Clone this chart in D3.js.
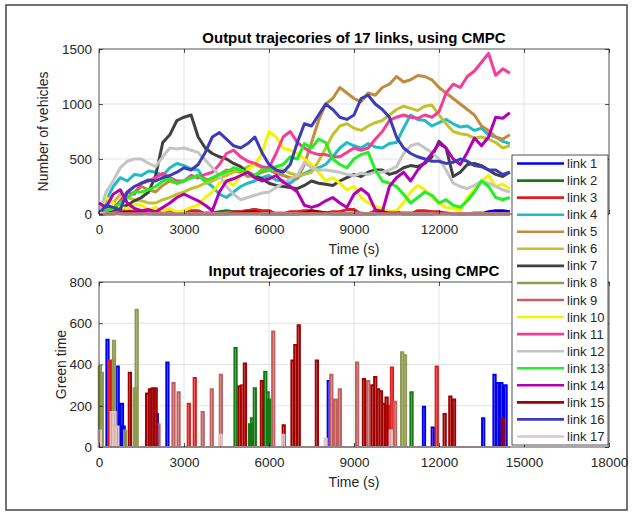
<!DOCTYPE html>
<html>
<head>
<meta charset="utf-8">
<script src="https://cdn.jsdelivr.net/npm/d3@7"></script>
<style>
  body { margin: 0; background: #fff; }
  text { font-family: "Liberation Sans", Arial, sans-serif; }
</style>
</head>
<body>
<svg id="chart" width="632" height="512"></svg>
<script>
// ---- data ----
const linkNames = ["link 1","link 2","link 3","link 4","link 5","link 6","link 7","link 8","link 9",
                   "link 10","link 11","link 12","link 13","link 14","link 15","link 16","link 17"];
const linkColors = ["#0000f0","#157a15","#e01e1e","#1fbcc8","#c08c40","#c3c22e","#404040","#8f9a4e","#c06060",
                    "#f4f400","#f73c96","#c4c4c4","#22f022","#b400b4","#a00000","#3c3cb8","#e2c4c4"];

const sampleTimes = [0,250,500,750,1000,1250,1500,1750,2000,2250,2500,2750,3000,3250,3500,3750,4000,4250,4500,4750,
                     5000,5250,5500,5750,6000,6250,6500,6750,7000,7250,7500,7750,8000,8250,8500,8750,9000,9250,9500,9750,
                     10000,10250,10500,10750,11000,11250,11500,11750,12000,12250,12500,12750,13000,13250,13500,13750,14000,14250,14500];

// number of vehicles per link at sampleTimes
const vehicles1  = [20,10,10,5,0,0,0,10,0,0, 0,0,10,0,0,0,0,0,0,0, 0,0,0,0,0,0,0,0,0,0, 0,0,0,0,0,0,0,0,0,0, 0,0,0,0,0,0,0,0,0,0, 0,0,0,0,0,20,30,30,20];
const vehicles2  = [0,10,10,0,0,20,20,10,10,0, 0,0,0,0,0,10,10,20,30,20, 20,30,40,20,20,0,0,0,0,0, 0,10,10,0,0,0,0,0,0,0, 0,0,0,10,10,0,0,0,0,0, 0,0,0,0,0,0,0,0,0];
const vehicles3  = [0,10,20,30,30,20,10,20,20,0, 0,10,10,30,30,0,0,10,0,20, 20,30,40,30,30,0,0,20,20,30, 30,10,10,20,20,40,40,0,0,30, 30,20,20,0,0,30,30,20,20,0, 0,0,0,10,10,0,0,0,0];
const vehicles4  = [0,120,250,330,300,360,350,390,380,350, 420,460,440,410,400,300,250,180,150,200, 250,280,300,330,350,310,300,280,330,370,
                    400,420,450,520,600,650,620,600,640,610, 600,640,650,780,900,860,850,800,830,860, 820,790,800,760,780,720,700,660,640];
const vehicles5  = [0,20,50,100,150,200,250,220,200,260, 300,280,300,330,350,320,300,360,400,390, 380,340,350,380,400,370,350,330,320,450,
                    650,850,1000,1050,1150,1100,1050,1020,1100,1080, 1150,1180,1250,1200,1220,1260,1250,1220,1150,1100, 1050,1000,950,900,800,760,700,680,720];
const vehicles6  = [0,150,100,180,150,130,120,100,100,130, 150,180,200,230,250,280,300,330,350,380, 400,430,450,420,420,400,400,370,350,360,
                    380,480,600,720,800,820,780,760,800,830, 850,900,950,980,960,940,980,990,900,820, 750,730,720,690,700,680,650,600,620];
const vehicles7  = [0,20,30,60,80,120,150,200,350,650, 720,850,880,900,700,600,550,520,500,460, 430,380,350,320,280,260,250,240,230,260,
                    300,280,270,260,300,330,360,340,380,400, 400,360,380,420,440,430,460,520,660,600, 340,380,450,460,440,400,360,340,380];
const vehicles8  = [0,0,0,10,10,0,0,0,0,0, 0,0,0,0,0,0,0,0,10,10, 0,0,0,0,0,0,0,0,0,0, 0,0,0,0,0,0,0,0,0,0, 0,0,0,0,0,0,0,0,0,0, 0,0,0,0,0,0,0,0,0];
const vehicles9  = [0,0,10,20,20,0,0,10,10,20, 20,0,0,0,0,0,10,0,0,0, 0,0,0,0,0,10,10,0,0,0, 0,0,0,0,0,0,10,10,0,0, 0,0,0,0,0,0,0,0,0,0, 0,0,0,0,0,0,0,0,0];
const vehicles10 = [0,150,100,60,50,90,80,40,60,30, 50,20,30,60,80,150,200,280,300,260, 350,400,450,550,750,700,600,580,550,500,
                    450,380,300,330,280,220,250,150,100,70, 50,20,30,100,200,260,220,150,100,60, 50,30,150,220,300,350,250,270,230];
const vehicles11 = [0,30,50,120,200,180,280,300,330,370, 330,300,300,350,330,360,380,450,550,580, 520,480,460,430,420,550,700,750,650,600,
                    560,540,540,520,520,560,600,580,600,680, 750,850,880,900,880,870,900,880,930,1100, 1180,1150,1250,1300,1380,1460,1260,1320,1280];
const vehicles12 = [0,200,300,420,480,500,500,460,430,520, 600,590,600,580,560,490,420,350,250,180, 130,150,170,190,200,240,280,320,350,470,
                    420,400,400,390,380,360,350,370,360,380, 380,400,430,550,620,640,600,560,500,400, 280,250,230,260,300,280,250,220,200];
const vehicles13 = [0,30,50,100,150,200,200,220,250,300, 320,280,300,330,350,300,330,360,380,420, 400,380,350,400,400,430,450,520,500,640,
                    600,680,650,500,450,420,500,540,560,400, 300,280,250,180,100,150,200,170,100,130, 80,60,120,200,300,250,150,130,150];
const vehicles14 = [100,60,180,220,100,50,30,40,20,60, 100,150,180,150,120,80,30,200,300,320, 350,380,330,300,320,350,290,250,200,80,
                    60,80,120,150,100,60,180,230,180,40, 20,250,330,380,300,400,470,550,640,600, 500,450,560,690,620,700,880,870,920];
const vehicles15 = [0,0,0,10,20,10,10,0,0,0, 0,0,0,0,0,0,0,0,0,10, 10,20,20,0,0,0,0,0,0,10, 30,20,10,0,0,0,0,0,0,0, 20,10,10,0,0,0,0,0,10,10, 0,0,0,0,0,0,0,0,0];
const vehicles16 = [0,80,60,40,200,250,280,310,300,330, 350,380,420,400,450,560,700,740,680,620, 600,640,700,560,450,400,380,450,650,820,
                    800,900,1000,950,880,860,900,1050,1080,1000, 950,880,700,600,550,520,500,480,480,460, 470,500,480,440,430,400,400,360,380];
const vehicles17 = [10,0,0,0,0,0,0,0,0,0, 0,0,0,0,0,0,0,0,0,0, 0,0,0,0,0,0,0,0,0,0, 0,0,0,0,0,0,0,0,0,0, 0,0,0,0,0,0,0,0,0,0, 0,0,0,0,0,0,0,0,0];
const vehicleSeries = [vehicles1,vehicles2,vehicles3,vehicles4,vehicles5,vehicles6,vehicles7,vehicles8,vehicles9,
                       vehicles10,vehicles11,vehicles12,vehicles13,vehicles14,vehicles15,vehicles16,vehicles17];

// green time pulses per link: [time, value]
const green1  = [[300,520],[660,390],[810,210],[870,100],[2040,160],[2415,410],[8110,320],[11470,195],[11780,95],[13560,140],[13960,350],[14070,310],[14200,310],[14350,300]];
const green2  = [[4820,480],[5330,110],[5400,140],[5500,285],[5870,365],[5950,265],[6010,230],[11030,265]];
const green3  = [[380,420],[480,420],[3170,210],[3380,335],[5050,300],[10200,200],[10340,385],[11920,390]];
const green4  = [];
const green5  = [];
const green6  = [];
const green7  = [];
const green8  = [[30,390],[100,360],[530,515],[920,80],[1260,285],[1330,665],[10700,460],[10800,445]];
const green9  = [[1850,280],[1950,280],[2100,110],[2630,310],[2810,265],[3660,170],[3980,280],[4300,350],[6150,560],[8200,350],[8350,230],[8500,280],[9110,410],[9500,320],[10450,220]];
const green10 = [];
const green11 = [];
const green12 = [];
const green13 = [];
const green14 = [];
const green15 = [[1090,360],[1700,260],[1800,280],[1900,285],[2000,285],[4960,295],[5150,405],[5750,320],[6520,105],[6830,420],[6930,495],[7050,590],[7690,420],[9350,330],[9650,300],[9750,340],[9850,280],[9950,270],[10050,210],[10150,240],[12200,160],[12400,245],[12530,230],[14250,140]];
const green16 = [];
const green17 = [[30,80],[450,170],[550,170],[650,100],[4300,60],[6500,60],[8000,40],[10300,80]];
const greenSeries = [green1,green2,green3,green4,green5,green6,green7,green8,green9,
                     green10,green11,green12,green13,green14,green15,green16,green17];

const timeTicks = [0,3000,6000,9000,12000,15000,18000];
const vehicleTicks = [0,500,1000,1500];
const greenTicks = [0,200,400,600,800];
const endTime = 14500;

// ---- drawing ----
const svg = d3.select("#chart");
const axisColor = "#262626";

svg.append("rect").attr("x", 6).attr("y", 5).attr("width", 621).attr("height", 505)
    .attr("fill", "#fff").attr("stroke", "#444").attr("stroke-width", 1.5);

function drawPanel(opt) {
    const x = d3.scaleLinear().domain([0, 18000]).range([99, 609]);
    const y = d3.scaleLinear().domain(opt.yDomain).range([opt.bottom, opt.top]);
    const g = svg.append("g");

    // grid
    g.append("g").selectAll("line").data(timeTicks.slice(1, -1)).enter().append("line")
        .attr("x1", d => x(d)).attr("x2", d => x(d)).attr("y1", opt.top).attr("y2", opt.bottom)
        .attr("stroke", "#e3e3e3").attr("stroke-width", 1);
    g.append("g").selectAll("line").data(opt.yTicks.slice(1, -1)).enter().append("line")
        .attr("x1", 99).attr("x2", 609).attr("y1", d => y(d)).attr("y2", d => y(d))
        .attr("stroke", "#e3e3e3").attr("stroke-width", 1);

    const plot = g.append("g");
    opt.draw(plot, x, y);

    // axes
    const xFmt = d => d <= opt.lastTimeLabel ? String(d) : "";
    const xb = g.append("g").attr("transform", "translate(0," + opt.bottom + ")")
        .call(d3.axisBottom(x).tickValues(timeTicks).tickFormat(xFmt).tickSizeInner(-4).tickSizeOuter(0).tickPadding(10));
    const xt = g.append("g").attr("transform", "translate(0," + opt.top + ")")
        .call(d3.axisTop(x).tickValues(timeTicks).tickFormat("").tickSizeInner(-4).tickSizeOuter(0));
    const yl = g.append("g").attr("transform", "translate(99,0)")
        .call(d3.axisLeft(y).tickValues(opt.yTicks).tickFormat(d3.format("d")).tickSizeInner(-4).tickSizeOuter(0).tickPadding(7));
    const yr = g.append("g").attr("transform", "translate(609,0)")
        .call(d3.axisRight(y).tickValues(opt.yTicks).tickFormat("").tickSizeInner(-4).tickSizeOuter(0));
    [xb, xt, yl, yr].forEach(a => {
        a.select(".domain").remove();
        a.selectAll("line").attr("stroke", axisColor).attr("stroke-width", 0.8);
        a.selectAll("text").attr("fill", "#262626").style("font-size", "13.5px")
            .style("font-family", "'Liberation Sans', Arial, sans-serif");
    });
    g.append("rect").attr("x", 99).attr("y", opt.top).attr("width", 510).attr("height", opt.bottom - opt.top)
        .attr("fill", "none").attr("stroke", axisColor).attr("stroke-width", 0.8);

    g.append("text").attr("x", 354).attr("y", opt.titleY).attr("text-anchor", "middle")
        .attr("font-weight", "bold").attr("font-size", "15px").attr("fill", "#000").text(opt.title);
    g.append("text").attr("x", 354).attr("y", opt.bottom + 40).attr("text-anchor", "middle")
        .attr("font-size", "14px").attr("fill", "#262626").text("Time (s)");
    g.append("text").attr("transform", "translate(" + opt.ylabelX + "," + ((opt.top + opt.bottom) / 2) + ") rotate(-90)")
        .attr("text-anchor", "middle").attr("font-size", "14px").attr("fill", "#262626").text(opt.ylabel);
}

drawPanel({
    top: 49, bottom: 214, yDomain: [0, 1500], yTicks: vehicleTicks, titleY: 43, lastTimeLabel: 12000,
    title: "Output trajecories of 17 links, using CMPC", ylabel: "Number of vehicles", ylabelX: 48,
    draw: function (plot, x, y) {
        const line = d3.line().x(d => x(d[0])).y(d => y(d[1]));
        vehicleSeries.forEach(function (vals, i) {
            plot.append("path")
                .datum(vals.map((v, k) => [sampleTimes[k], v]))
                .attr("fill", "none").attr("stroke", linkColors[i]).attr("stroke-width", 3)
                .attr("stroke-linejoin", "round").attr("d", line);
        });
    }
});

drawPanel({
    top: 282, bottom: 447, yDomain: [0, 800], yTicks: greenTicks, titleY: 276, lastTimeLabel: 18000,
    title: "Input trajecories of 17 links, using CMPC", ylabel: "Green time", ylabelX: 66,
    draw: function (plot, x, y) {
        const line = d3.line().x(d => x(d[0])).y(d => y(d[1]));
        const half = 40;
        greenSeries.forEach(function (pulses, i) {
            const pts = [[0, 0]];
            pulses.slice().sort((a, b) => a[0] - b[0]).forEach(function (p) {
                pts.push([p[0] - half, 0], [p[0] - half, p[1]], [p[0] + half, p[1]], [p[0] + half, 0]);
            });
            pts.push([endTime, 0]);
            plot.append("path").datum(pts)
                .attr("fill", "none").attr("stroke", linkColors[i]).attr("stroke-width", 2)
                .attr("d", line);
        });
    }
});

// legend
const legend = svg.append("g");
legend.append("rect").attr("x", 512).attr("y", 155).attr("width", 96).attr("height", 290)
    .attr("fill", "#fff").attr("stroke", axisColor).attr("stroke-width", 0.8);
const rowH = 290 / 17;
linkNames.forEach(function (name, i) {
    const cy = 155 + rowH * (i + 0.5);
    legend.append("line").attr("x1", 517).attr("x2", 564).attr("y1", cy).attr("y2", cy)
        .attr("stroke", linkColors[i]).attr("stroke-width", 2.6);
    legend.append("text").attr("x", 567).attr("y", cy).attr("dy", "0.35em")
        .attr("font-size", "13px").attr("fill", "#262626").text(name);
});
</script>
</body>
</html>
